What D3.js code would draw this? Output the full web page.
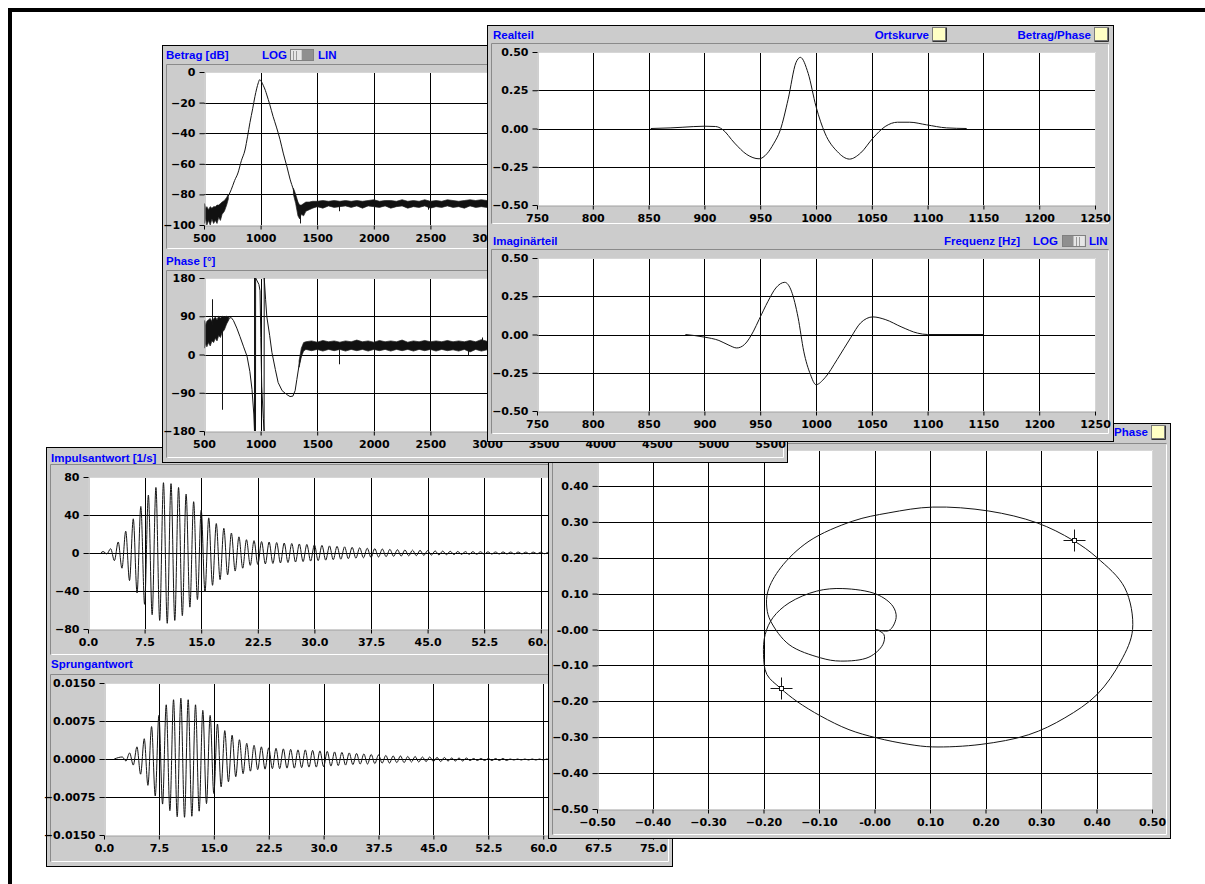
<!DOCTYPE html>
<html>
<head>
<meta charset="utf-8">
<script src="https://cdn.jsdelivr.net/npm/d3@7"></script>
<style>
  html, body { margin: 0; padding: 0; background: #fff; }
  svg { display: block; }
  .tick-label { font-family: 'DejaVu Sans', sans-serif; font-weight: bold; font-size: 11px; fill: #000; }
  .title { font-family: 'Liberation Sans', Arial, sans-serif; font-weight: bold; font-size: 11.5px; fill: #0000ff; }
</style>
</head>
<body>
<svg id="chart" width="1205" height="884"></svg>
<script>
'use strict'

// Betrag [dB] over Frequenz [Hz]: smooth part and noisy bands [f, lo, hi]
const betragLine = [[715, -81], [740, -77], [770, -71], [800, -66], [830, -58], [862, -51], [885, -42], [906, -33],
  [930, -24], [950, -16], [965, -11], [980, -7], [992, -5], [1005, -6], [1025, -9], [1042, -12], [1055, -15],
  [1080, -21], [1110, -29], [1140, -36], [1171, -44], [1200, -53], [1233, -62], [1260, -70], [1290, -77],
  [1310, -82], [1330, -86]]
const betragNoiseLow = [[505, -99, -86], [515, -96, -89], [525, -100, -88], [540, -97, -90], [555, -100, -88],
  [570, -96, -89], [585, -99, -88], [600, -97, -88], [615, -99, -87], [630, -95, -87], [645, -97, -86],
  [660, -93, -85], [680, -91, -84], [700, -87, -82], [715, -83, -80]]
const betragNoiseHigh = [[1290, -80, -76], [1310, -86, -80], [1330, -94, -85], [1345, -96, -87], [1360, -93, -87],
  [1380, -94, -86], [1400, -91, -85], [1430, -90, -85], [1460, -89, -84.5], [1500, -88, -84.5], [1550, -89, -84],
  [1600, -87.5, -84.5], [1650, -88.5, -84], [1700, -88, -84.5], [1750, -87.5, -84], [1800, -88.5, -84.5],
  [1850, -87.5, -84], [1900, -89, -84.5], [1950, -87.5, -84], [2000, -88, -83.5], [2050, -88.5, -84.5],
  [2100, -87.5, -84], [2150, -89, -84], [2200, -88, -84.5], [2250, -87.5, -83.5], [2300, -89, -84.5],
  [2350, -88, -84], [2400, -88.5, -84.5], [2450, -87.5, -83.5], [2500, -89, -84.5], [2550, -88, -84],
  [2600, -88.5, -84.5], [2650, -87.5, -83.5], [2700, -88.5, -84], [2750, -88, -84.5], [2800, -89, -84],
  [2850, -87.5, -83.5], [2900, -88.5, -84], [2950, -88, -83.5], [3000, -88.5, -84], [3100, -88, -84]]
const betragSpikes = [[1345, -90, -99], [1690, -86, -91], [2480, -85, -90]]

// Phase [°] over Frequenz [Hz]
const phaseLine = [[720, 85], [740, 87], [760, 80], [790, 62], [818, 42], [850, 18], [880, -4], [905, -40],
  [924, -82], [940, -140], [946, -180], [947, 180], [955, -180], [956, 180], [985, 165], [995, 150], [1002, 40],
  [1010, -75], [1024, -150], [1031, -180], [1032, 180], [1044, 130], [1055, 89], [1080, 45], [1100, 5],
  [1130, -35], [1155, -66], [1190, -85], [1230, -94], [1260, -99], [1285, -98], [1305, -85], [1320, -59],
  [1340, -25], [1365, 5], [1385, 18], [1410, 20]]
const phaseNoiseLow = [[505, 15, 80], [515, 25, 70], [525, 18, 78], [540, 28, 82], [555, 20, 85], [570, 32, 78],
  [585, 28, 84], [600, 38, 88], [615, 32, 82], [630, 45, 90], [645, 40, 86], [660, 52, 90], [680, 58, 88],
  [700, 72, 90], [720, 82, 88]]
const phaseNoiseHigh = [[1340, -30, -15], [1360, -5, 15], [1380, 8, 28], [1400, 12, 30], [1450, 9, 32],
  [1500, 12, 29], [1550, 8, 33], [1600, 12, 30], [1650, 9, 32], [1700, 12, 29], [1750, 8, 32], [1800, 12, 30],
  [1850, 9, 34], [1900, 12, 30], [1950, 8, 32], [2000, 12, 29], [2050, 9, 33], [2100, 12, 30], [2150, 8, 32],
  [2200, 12, 30], [2250, 9, 34], [2300, 12, 29], [2350, 8, 32], [2400, 12, 30], [2450, 9, 33], [2500, 12, 30],
  [2550, 8, 32], [2600, 12, 30], [2650, 9, 33], [2700, 11, 30], [2750, 8, 32], [2800, 12, 30], [2850, 6, 33],
  [2900, 12, 30], [2950, 8, 35], [3000, 11, 31], [3100, 10, 33]]
const phaseSpikes = [[570, 70, 130], [655, 60, -130], [1690, 12, -23], [2960, 25, 40], [2830, 10, -2]]

// Realteil / Imaginärteil over Frequenz [Hz]
const realteil = [[852, 0], [870, 0.004], [880, 0.008], [900, 0.015], [910, 0.013], [916, -0.005], [927, -0.095],
  [938, -0.17], [949, -0.198], [956, -0.165], [962, -0.1], [968, -0.01], [975, 0.19], [982, 0.43], [986, 0.465],
  [993, 0.36], [1000, 0.144], [1008, -0.03], [1019, -0.15], [1030, -0.2], [1040, -0.16], [1051, -0.063],
  [1062, 0.013], [1073, 0.041], [1084, 0.041], [1099, 0.024], [1117, 0.004], [1135, 0]]
const imaginaerteil = [[883, 0], [900, -0.017], [913, -0.039], [922, -0.07], [929, -0.088], [936, -0.065],
  [944, 0.022], [949, 0.098], [957, 0.217], [964, 0.304], [972, 0.341], [978, 0.283], [984, 0.109], [989, -0.109],
  [995, -0.261], [1000, -0.328], [1008, -0.283], [1019, -0.163], [1031, -0.022], [1040, 0.076], [1051, 0.115],
  [1062, 0.098], [1077, 0.048], [1091, 0.009], [1100, 0], [1150, 0]]

// Impulsantwort [1/s]: maxima at t = 2, 3, 4 ... ms, minima at t = 2.5, 3.5 ... ms
const impulsStart = 1.7
const impulsPos = [1.5, 4.5, 11.6, 23, 36, 49, 61, 69, 74, 73, 69, 62, 54, 45, 37, 31, 26, 21, 17, 14, 13, 12,
  11.5, 11, 10.5, 10, 9.5, 9, 8.5, 8, 7.5, 7, 6.5, 6, 5.5, 5, 4.6, 4.2, 3.8, 3.5, 3.2, 3, 2.8, 2.5, 2.2, 2, 1.8,
  1.6, 1.5, 1.4, 1.3, 1.2, 1.1, 1.1, 1, 1, 0.9, 0.9, 0.8, 0.8]
const impulsNeg = [-1, -8, -16, -29, -42, -54, -65, -71, -74, -71, -66, -57, -49, -41, -34, -28, -23, -19, -16,
  -13, -12, -11.5, -11, -10.5, -10, -9.5, -9, -8.5, -8, -7.5, -7, -6.5, -6, -5.5, -5, -4.6, -4.2, -3.8, -3.5, -3.2,
  -3, -2.8, -2.5, -2.2, -2, -1.8, -1.6, -1.5, -1.4, -1.3, -1.2, -1.1, -1.1, -1, -1, -0.9, -0.9, -0.8, -0.8, -0.8]

// Sprungantwort: maxima at t = 2.5, 3.5 ... ms, minima at t = 3, 4 ... ms
const sprungStart = 1.4
const sprungPos = [0.0004, 0.0012, 0.0024, 0.0040, 0.0064, 0.0086, 0.0107, 0.0117, 0.0120, 0.0117, 0.0107,
  0.0096, 0.0086, 0.0069, 0.0056, 0.0047, 0.0038, 0.0031, 0.0027, 0.0024, 0.0022, 0.0021, 0.0020, 0.0019, 0.0018,
  0.0018, 0.0017, 0.0016, 0.0015, 0.0014, 0.0013, 0.0012, 0.0011, 0.0010, 0.0009, 0.0008, 0.0007, 0.0006, 0.0006,
  0.0005, 0.0005, 0.0004, 0.0004, 0.0003, 0.0003, 0.0002, 0.0002, 0.0002, 0.0001, 0.0001, 0.0001, 0.0001, 0.0001,
  0, 0, 0, 0, 0, 0, 0]
const sprungNeg = [-0.0004, -0.0012, -0.0030, -0.0052, -0.0073, -0.0089, -0.0102, -0.0114, -0.0115, -0.0113,
  -0.0103, -0.0088, -0.0068, -0.0055, -0.0045, -0.0035, -0.0029, -0.0024, -0.0021, -0.0020, -0.0019, -0.0019,
  -0.0018, -0.0018, -0.0017, -0.0016, -0.0016, -0.0015, -0.0014, -0.0013, -0.0012, -0.0011, -0.0010, -0.0010,
  -0.0009, -0.0008, -0.0008, -0.0007, -0.0007, -0.0006, -0.0006, -0.0005, -0.0005, -0.0005, -0.0004, -0.0004,
  -0.0004, -0.0003, -0.0003, -0.0003, -0.0003, -0.0003, -0.0003, -0.0002, -0.0002, -0.0002, -0.0002, -0.0002,
  -0.0002, -0.0002]

// Ortskurve: [Realteil, Imaginärteil] in order of rising frequency
const ortskurve = [[0.003, 0], [0.017, -0.014], [0.015, -0.042], [-0.010, -0.077], [-0.061, -0.088],
  [-0.097, -0.079], [-0.154, -0.042], [-0.187, 0.023], [-0.194, 0.060], [-0.192, 0.107], [-0.169, 0.172],
  [-0.118, 0.246], [-0.039, 0.302], [0.026, 0.325], [0.105, 0.341], [0.206, 0.330], [0.293, 0.297],
  [0.357, 0.249], [0.401, 0.200], [0.451, 0.116], [0.465, 0], [0.444, -0.088], [0.401, -0.181],
  [0.343, -0.246], [0.278, -0.293], [0.192, -0.320], [0.105, -0.327], [0.062, -0.320], [0.004, -0.302],
  [-0.046, -0.279], [-0.097, -0.241], [-0.140, -0.200], [-0.169, -0.164], [-0.194, -0.125], [-0.200, -0.070],
  [-0.197, -0.014], [-0.183, 0.033], [-0.154, 0.074], [-0.104, 0.107], [-0.057, 0.114], [0.004, 0.098],
  [0.033, 0.065], [0.039, 0.033], [0.026, -0.003], [0.003, 0]]
const ortskurveMarker = [[0.359, 0.249], [-0.169, -0.164]]

// tick labels
const freqTicks = [500, 1000, 1500, 2000, 2500, 3000, 3500, 4000, 4500, 5000, 5500]
const dbTicks = [0, -20, -40, -60, -80, -100]
const degTicks = [180, 90, 0, -90, -180]
const hzTicks = [750, 800, 850, 900, 950, 1000, 1050, 1100, 1150, 1200, 1250]
const partTicks = [0.5, 0.25, 0, -0.25, -0.5]
const timeTicks = [0, 7.5, 15, 22.5, 30, 37.5, 45, 52.5, 60, 67.5, 75]
const impulsTicks = [80, 40, 0, -40, -80]
const sprungTicks = [0.015, 0.0075, 0, -0.0075, -0.015]
const ortTicks = [-0.5, -0.4, -0.3, -0.2, -0.1, 0, 0.1, 0.2, 0.3, 0.4, 0.5]

const svg = d3.select('#chart')
const defs = svg.append('defs')
let clipCount = 0
const px = v => Math.round(v) + 0.5
const ink = '#141414'

// page frame
svg.append('path').attr('d', 'M10,884V10H1205').attr('fill', 'none').attr('stroke', '#000').attr('stroke-width', 4)

const windowFrame = (x, y, w, h) => {
  const g = svg.append('g')
  g.append('rect').attr('x', x + 0.5).attr('y', y + 0.5).attr('width', w).attr('height', h)
    .attr('fill', '#cccccc').attr('stroke', '#000')
  return g
}

const panel = (g, x, y, w, h) => {
  g.append('path').attr('d', `M${x + 0.5},${y + h + 0.5}V${y + 0.5}H${x + w + 0.5}`)
    .attr('fill', 'none').attr('stroke', '#8a8a8a')
  g.append('path').attr('d', `M${x + w + 0.5},${y + 1.5}V${y + h + 0.5}H${x + 1.5}`)
    .attr('fill', 'none').attr('stroke', '#fff')
}

const title = (g, x, y, text, anchor = 'start') =>
  g.append('text').attr('class', 'title').attr('x', x).attr('y', y).attr('text-anchor', anchor).text(text)

const checkbox = (g, x, y) => {
  g.append('rect').attr('x', x + 0.5).attr('y', y + 0.5).attr('width', 13).attr('height', 13)
    .attr('fill', '#ffffc4').attr('stroke', '#7a7a7a')
  g.append('path').attr('d', `M${x + 14.5},${y + 0.5}V${y + 14.5}H${x + 0.5}`)
    .attr('fill', 'none').attr('stroke', '#333')
}

const toggle = (g, x, y, darkLeft) => {
  const lightX = darkLeft ? x + 11 : x
  const darkX = darkLeft ? x : x + 11
  g.append('rect').attr('x', darkX + 0.5).attr('y', y + 0.5).attr('width', 12).attr('height', 11).attr('fill', '#8f8f8f')
  g.append('rect').attr('x', lightX + 0.5).attr('y', y + 0.5).attr('width', 11).attr('height', 11).attr('fill', '#e6e6e6')
  ;[3, 6].forEach(d => g.append('line').attr('x1', lightX + d + 0.5).attr('x2', lightX + d + 0.5)
    .attr('y1', y + 2).attr('y2', y + 11).attr('stroke', '#9a9a9a'))
  g.append('rect').attr('x', x + 0.5).attr('y', y + 0.5).attr('width', 23).attr('height', 11)
    .attr('fill', 'none').attr('stroke', '#808080')
}

const plot = (g, o) => {
  const x = d3.scaleLinear().domain(o.xDomain).range([o.left, o.right])
  const y = d3.scaleLinear().domain(o.yDomain).range([o.bottom, o.top])
  const id = `clip${clipCount++}`
  defs.append('clipPath').attr('id', id).append('rect')
    .attr('x', o.left).attr('y', o.top).attr('width', o.right - o.left + 1).attr('height', o.bottom - o.top + 1)
  g.append('rect').attr('x', o.left).attr('y', o.top).attr('width', o.right - o.left + 1).attr('height', o.bottom - o.top + 1)
    .attr('fill', '#fff')

  g.append('g').selectAll('line').data(o.xTicks.slice(1, -1)).join('line')
    .attr('x1', d => px(x(d))).attr('x2', d => px(x(d))).attr('y1', o.top).attr('y2', o.bottom)
    .attr('stroke', '#000')
  g.append('g').selectAll('line').data(o.yTicks.slice(1, -1)).join('line')
    .attr('y1', d => px(y(d))).attr('y2', d => px(y(d))).attr('x1', o.left).attr('x2', o.right)
    .attr('stroke', '#000')
  g.append('path').attr('d', `M${o.left},${px(o.top)}H${px(o.right)}V${o.bottom}`)
    .attr('fill', 'none').attr('stroke', '#d6d6d6')

  const layer = g.append('g').attr('clip-path', `url(#${id})`)

  const ax = g.append('g').attr('transform', `translate(0,${px(o.bottom)})`)
    .call(d3.axisBottom(x).tickValues(o.xTicks).tickFormat(o.fmtX).tickSize(4).tickPadding(5).tickSizeOuter(0))
  const ay = g.append('g').attr('transform', `translate(${px(o.left)},0)`)
    .call(d3.axisLeft(y).tickValues(o.yTicks).tickFormat(o.fmtY).tickSize(5).tickPadding(4).tickSizeOuter(0))
  ;[ax, ay].forEach(a => {
    a.select('.domain').attr('stroke', '#a0a0a0')
    a.selectAll('.tick line').attr('stroke', '#000')
    a.selectAll('text').attr('class', 'tick-label')
  })
  return { x, y, layer }
}

const drawLine = (p, data, curve = d3.curveMonotoneX) =>
  p.layer.append('path').datum(data)
    .attr('d', d3.line().x(d => p.x(d[0])).y(d => p.y(d[1])).curve(curve))
    .attr('fill', 'none').attr('stroke', ink).attr('stroke-width', 1)

const drawBand = (p, data) =>
  p.layer.append('path').datum(data)
    .attr('d', d3.area().x(d => p.x(d[0])).y0(d => p.y(d[1])).y1(d => p.y(d[2])))
    .attr('fill', '#111').attr('stroke', '#222').attr('stroke-width', 0.7)

const drawSpikes = (p, data) =>
  p.layer.selectAll(null).data(data).join('line')
    .attr('x1', d => px(p.x(d[0]))).attr('x2', d => px(p.x(d[0])))
    .attr('y1', d => p.y(d[1])).attr('y2', d => p.y(d[2]))
    .attr('stroke', ink)

const oscillation = (start, firstPeak, pos, neg) => {
  const pts = [[start, 0]]
  pos.forEach((v, i) => {
    pts.push([firstPeak + i, v])
    if (neg[i] !== undefined) pts.push([firstPeak + 0.5 + i, neg[i]])
  })
  return pts
}

const f0 = d3.format('d')
const f1 = d3.format('.1f')
const f2 = d3.format('.2f')
const f4 = d3.format('.4f')

// ---- Impulsantwort / Sprungantwort window (bottom of stack)
const winD = windowFrame(46, 447, 626, 419)
title(winD, 51, 462, 'Impulsantwort [1/s]')
panel(winD, 50, 464, 618, 190)
const impuls = plot(winD, {
  left: 88, right: 654, top: 477, bottom: 629,
  xDomain: [0, 75], yDomain: [-80, 80], xTicks: timeTicks, yTicks: impulsTicks,
  fmtX: v => v > 60 ? '' : f1(v), fmtY: f0
})
drawLine(impuls, oscillation(impulsStart, 2, impulsPos, impulsNeg))

title(winD, 51, 668, 'Sprungantwort')
panel(winD, 50, 674, 618, 187)
const sprung = plot(winD, {
  left: 104, right: 653, top: 683, bottom: 835,
  xDomain: [0, 75], yDomain: [-0.015, 0.015], xTicks: timeTicks, yTicks: sprungTicks,
  fmtX: f1, fmtY: f4
})
drawLine(sprung, oscillation(sprungStart, 2.5, sprungPos, sprungNeg))

// ---- Ortskurve window
const winC = windowFrame(548, 423, 622, 415)
title(winC, 1148, 436, 'Phase', 'end')
checkbox(winC, 1151, 425)
panel(winC, 552, 443, 614, 391)
const ort = plot(winC, {
  left: 597, right: 1152, top: 450, bottom: 809,
  xDomain: [-0.5, 0.5], yDomain: [-0.5, 0.5], xTicks: ortTicks, yTicks: ortTicks.slice().reverse(),
  fmtX: v => v === 0 ? '-0.00' : f2(v), fmtY: v => v === 0 ? '-0.00' : v > 0.45 ? '' : f2(v)
})
drawLine(ort, ortskurve, d3.curveCatmullRom.alpha(0.5))
const markers = ort.layer.selectAll(null).data(ortskurveMarker).join('g')
  .attr('transform', d => `translate(${px(ort.x(d[0]))},${px(ort.y(d[1]))})`)
markers.append('path').attr('d', 'M-11,0H11M0,-11V11').attr('stroke', ink)
markers.append('rect').attr('x', -2).attr('y', -2).attr('width', 4).attr('height', 4)
  .attr('fill', '#fff').attr('stroke', ink)

// ---- Betrag / Phase window
const winA = windowFrame(162, 45, 625, 417)
title(winA, 166, 59, 'Betrag [dB]')
title(winA, 262, 59, 'LOG')
toggle(winA, 290, 49, false)
title(winA, 318, 59, 'LIN')
panel(winA, 166, 64, 617, 184)
const betrag = plot(winA, {
  left: 204, right: 770, top: 72, bottom: 225,
  xDomain: [500, 5500], yDomain: [-100, 0], xTicks: freqTicks, yTicks: dbTicks,
  fmtX: v => v > 3000 ? '' : f0(v), fmtY: f0
})
drawBand(betrag, betragNoiseLow)
drawBand(betrag, betragNoiseHigh)
drawSpikes(betrag, betragSpikes)
drawLine(betrag, betragLine)

title(winA, 166, 265, 'Phase [°]')
panel(winA, 166, 270, 617, 187)
const phase = plot(winA, {
  left: 204, right: 770, top: 278, bottom: 431,
  xDomain: [500, 5500], yDomain: [-180, 180], xTicks: freqTicks, yTicks: degTicks,
  fmtX: f0, fmtY: f0
})
drawBand(phase, phaseNoiseLow)
drawBand(phase, phaseNoiseHigh)
drawSpikes(phase, phaseSpikes)
drawLine(phase, phaseLine, d3.curveLinear)

// ---- Realteil / Imaginärteil window (top of stack)
const winB = windowFrame(487, 25, 626, 416)
title(winB, 493, 39, 'Realteil')
title(winB, 929, 39, 'Ortskurve', 'end')
checkbox(winB, 932, 27)
title(winB, 1091, 39, 'Betrag/Phase', 'end')
checkbox(winB, 1094, 27)
panel(winB, 491, 43, 617, 180)
const real = plot(winB, {
  left: 537, right: 1095, top: 52, bottom: 205,
  xDomain: [750, 1250], yDomain: [-0.5, 0.5], xTicks: hzTicks, yTicks: partTicks,
  fmtX: f0, fmtY: f2
})
drawLine(real, realteil)

title(winB, 493, 245, 'Imaginärteil')
title(winB, 1020, 245, 'Frequenz [Hz]', 'end')
title(winB, 1033, 245, 'LOG')
toggle(winB, 1062, 235, true)
title(winB, 1089, 245, 'LIN')
panel(winB, 491, 249, 617, 184)
const imag = plot(winB, {
  left: 537, right: 1095, top: 258, bottom: 411,
  xDomain: [750, 1250], yDomain: [-0.5, 0.5], xTicks: hzTicks, yTicks: partTicks,
  fmtX: f0, fmtY: f2
})
drawLine(imag, imaginaerteil)
</script>
</body>
</html>
